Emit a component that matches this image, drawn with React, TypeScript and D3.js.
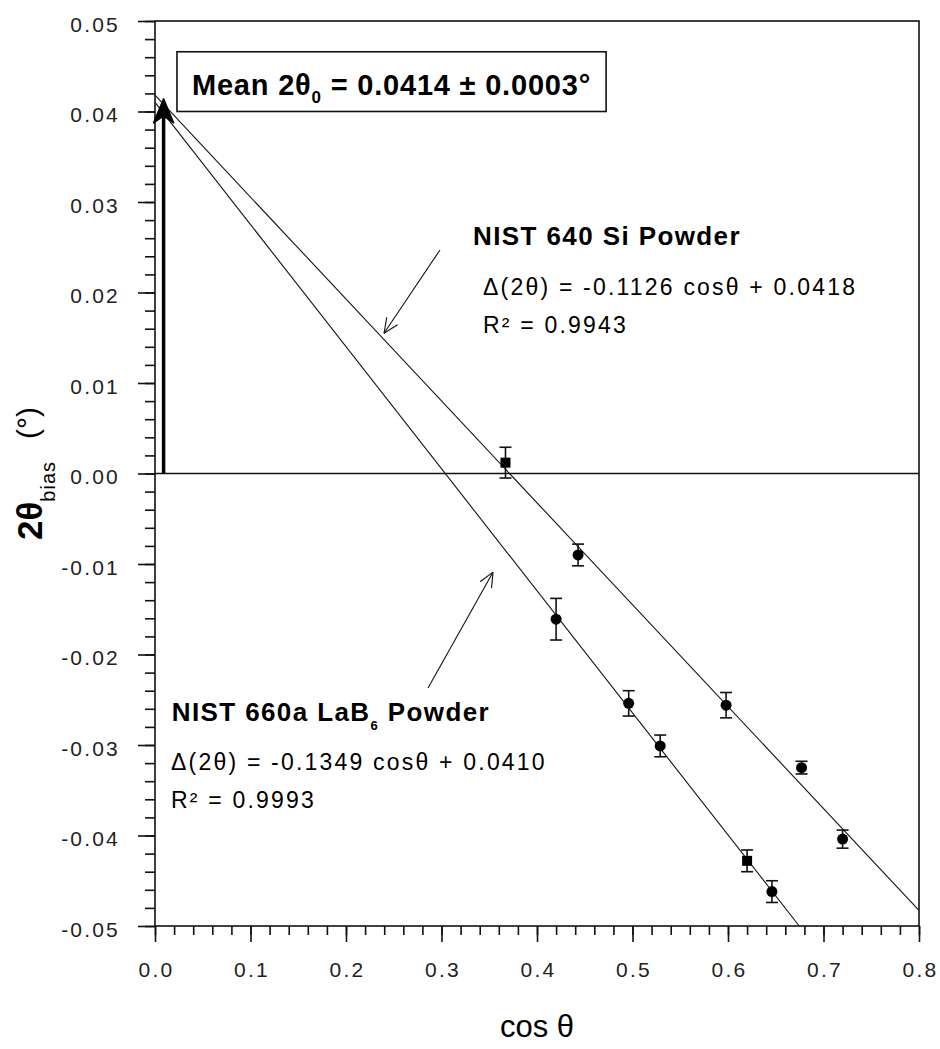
import { useRef, useEffect } from "react";
import * as d3 from "d3";

const W = 940;
const H = 1049;
const FONT = "'Liberation Sans', Arial, Helvetica, sans-serif";

// axis ticks
const xTicks = [0, 0.1, 0.2, 0.3, 0.4, 0.5, 0.6, 0.7, 0.8];
const xTickLabels = ["0.0", "0.1", "0.2", "0.3", "0.4", "0.5", "0.6", "0.7", "0.8"];
const yTicks = [-0.05, -0.04, -0.03, -0.02, -0.01, 0, 0.01, 0.02, 0.03, 0.04, 0.05];
const yTickLabels = ["-0.05", "-0.04", "-0.03", "-0.02", "-0.01", "0.00", "0.01", "0.02", "0.03", "0.04", "0.05"];

// NIST 640 Si powder
const siCos = [0.367, 0.443, 0.598, 0.677, 0.72];
const siBias = [0.0012, -0.009, -0.0256, -0.0325, -0.0404];
const siErr = [0.0017, 0.0012, 0.0014, 0.0007, 0.001];
const siMarker = ["square", "circle", "circle", "circle", "circle"];

// NIST 660a LaB6 powder
const labCos = [0.42, 0.496, 0.529, 0.62, 0.646];
const labBias = [-0.0161, -0.0254, -0.0301, -0.0428, -0.0462];
const labErr = [0.0023, 0.0014, 0.0012, 0.0012, 0.0012];
const labMarker = ["circle", "circle", "circle", "square", "circle"];

// linear fits
const siFit = { slope: -0.1126, intercept: 0.0418 };
const labFit = { slope: -0.1349, intercept: 0.041 };
const meanZero = 0.0414;
const meanArrowCos = 0.009;

export default function App() {
  const svgRef = useRef<SVGSVGElement>(null);

  useEffect(() => {
    const svg = d3.select(svgRef.current);
    svg.selectAll("*").remove();

    const x = d3.scaleLinear().domain([0, 0.8]).range([155, 919]);
    const y = d3.scaleLinear().domain([-0.05, 0.05]).range([926, 21]);

    svg.append("rect").attr("width", W).attr("height", H).attr("fill", "#fff");

    // minor ticks
    const xMinor = d3.range(0, 41).map((i) => i * 0.02);
    const yMinor = d3.range(0, 51).map((i) => -0.05 + i * 0.002);

    const styleAxis = (g: any) => {
      g.select(".domain").remove();
      g.selectAll("line").attr("stroke", "#111").attr("stroke-width", 1.6);
      g.selectAll("text")
        .attr("fill", "#222")
        .style("font-family", FONT)
        .style("font-size", "21px")
        .style("letter-spacing", "2.2px");
    };

    svg.append("g")
      .attr("transform", `translate(0,${y(-0.05)})`)
      .call(d3.axisBottom(x).tickValues(xMinor).tickSize(9).tickFormat(() => ""))
      .call(styleAxis);
    const xAxis = svg.append("g")
      .attr("transform", `translate(0,${y(-0.05)})`)
      .call(d3.axisBottom(x).tickValues(xTicks).tickSize(16).tickPadding(20).tickFormat((_d, i) => xTickLabels[i]))
      .call(styleAxis);
    xAxis.selectAll("text").attr("dx", "1px");

    svg.append("g")
      .attr("transform", `translate(${x(0)},0)`)
      .call(d3.axisLeft(y).tickValues(yMinor).tickSize(10).tickFormat(() => ""))
      .call(styleAxis);
    const yAxis = svg.append("g")
      .attr("transform", `translate(${x(0)},0)`)
      .call(d3.axisLeft(y).tickValues(yTicks).tickSize(17).tickPadding(18).tickFormat((_d, i) => yTickLabels[i]))
      .call(styleAxis);
    yAxis.selectAll("text").attr("dy", "0.48em");

    // frame
    svg.append("rect")
      .attr("x", x(0))
      .attr("y", y(0.05))
      .attr("width", x(0.8) - x(0))
      .attr("height", y(-0.05) - y(0.05))
      .attr("fill", "none")
      .attr("stroke", "#111")
      .attr("stroke-width", 1.6);

    // zero line
    svg.append("line")
      .attr("x1", x(0))
      .attr("x2", x(0.8))
      .attr("y1", y(0))
      .attr("y2", y(0))
      .attr("stroke", "#111")
      .attr("stroke-width", 1.6);

    // fit lines
    [siFit, labFit].forEach((f) => {
      const xEnd = Math.min(0.8, (-0.05 - f.intercept) / f.slope);
      const pts: [number, number][] = [
        [0, f.intercept],
        [xEnd, f.intercept + f.slope * xEnd],
      ];
      svg.append("path")
        .attr("d", d3.line().x((d) => x(d[0])).y((d) => y(d[1]))(pts))
        .attr("fill", "none")
        .attr("stroke", "#111")
        .attr("stroke-width", 1.1);
    });

    // points with error bars
    const drawSeries = (cs: number[], vs: number[], es: number[], ms: string[]) => {
      const g = svg.append("g");
      cs.forEach((c, i) => {
        const cx = x(c);
        const top = y(vs[i] + es[i]);
        const bot = y(vs[i] - es[i]);
        g.append("line").attr("x1", cx).attr("x2", cx).attr("y1", top).attr("y2", bot)
          .attr("stroke", "#111").attr("stroke-width", 1.6);
        [top, bot].forEach((yy) =>
          g.append("line").attr("x1", cx - 6).attr("x2", cx + 6).attr("y1", yy).attr("y2", yy)
            .attr("stroke", "#111").attr("stroke-width", 1.6)
        );
        if (ms[i] === "square") {
          g.append("rect").attr("x", cx - 5).attr("y", y(vs[i]) - 5).attr("width", 10).attr("height", 10).attr("fill", "#000");
        } else {
          g.append("circle").attr("cx", cx).attr("cy", y(vs[i])).attr("r", 5.5).attr("fill", "#000");
        }
      });
    };
    drawSeries(siCos, siBias, siErr, siMarker);
    drawSeries(labCos, labBias, labErr, labMarker);

    // thin annotation arrows
    const arrow = (from: [number, number], to: [number, number]) => {
      const x1 = x(from[0]), y1 = y(from[1]), x2 = x(to[0]), y2 = y(to[1]);
      const a = Math.atan2(y2 - y1, x2 - x1);
      svg.append("line").attr("x1", x1).attr("y1", y1).attr("x2", x2).attr("y2", y2)
        .attr("stroke", "#111").attr("stroke-width", 1.1);
      [-0.42, 0.42].forEach((da) => {
        svg.append("line")
          .attr("x1", x2).attr("y1", y2)
          .attr("x2", x2 - 16 * Math.cos(a + da))
          .attr("y2", y2 - 16 * Math.sin(a + da))
          .attr("stroke", "#111").attr("stroke-width", 1.1);
      });
    };
    arrow([0.2984, 0.0247], [0.2398, 0.0155]);
    arrow([0.2859, -0.0237], [0.3539, -0.0109]);

    // thick arrow marking the mean zero offset
    const ax = x(meanArrowCos);
    const tip = y(meanZero);
    svg.append("line")
      .attr("x1", ax).attr("x2", ax)
      .attr("y1", y(0)).attr("y2", tip + 10)
      .attr("stroke", "#000").attr("stroke-width", 3.5);
    svg.append("path")
      .attr("d", d3.line()([
        [ax, tip],
        [ax - 10, tip + 24],
        [ax, tip + 17],
        [ax + 10, tip + 24],
      ]) + "Z")
      .attr("fill", "#000")
      .attr("stroke", "#000")
      .attr("stroke-width", 1.5)
      .attr("stroke-linejoin", "round");

    // mean box
    const meanText = svg.append("text")
      .attr("x", x(0.0387))
      .attr("y", y(0.0418))
      .style("font-family", FONT)
      .style("font-weight", "bold")
      .style("font-size", "29px")
      .style("letter-spacing", "0.8px")
      .attr("fill", "#000");
    meanText.append("tspan").text("Mean 2θ");
    meanText.append("tspan").attr("dy", 8).style("font-size", "17px").text("0");
    meanText.append("tspan").attr("dy", -8).text(" = 0.0414 ± 0.0003°");
    const bb = (meanText.node() as SVGTextElement).getBBox();
    svg.append("rect")
      .attr("x", x(0.023))
      .attr("y", y(0.0466))
      .attr("width", bb.x + bb.width + 15 - x(0.023))
      .attr("height", y(0.04) - y(0.0466))
      .attr("fill", "none")
      .attr("stroke", "#111")
      .attr("stroke-width", 1.6);

    // annotations
    const label = (cx: number, cy: number, size: number, bold: boolean, spacing: number) =>
      svg.append("text")
        .attr("x", x(cx))
        .attr("y", y(cy))
        .style("font-family", FONT)
        .style("font-size", `${size}px`)
        .style("font-weight", bold ? "bold" : "normal")
        .style("letter-spacing", `${spacing}px`)
        .style("white-space", "pre")
        .attr("fill", "#000");

    label(0.333, 0.0252, 26, true, 1.4).text("NIST 640 Si Powder");
    label(0.3435, 0.0197, 23, false, 2.2).text("Δ(2θ) = -0.1126 cosθ + 0.0418");
    label(0.3435, 0.0155, 23, false, 2.2).text("R² = 0.9943");

    const labTitle = label(0.0175, -0.0273, 26, true, 1.4);
    labTitle.append("tspan").text("NIST 660a LaB");
    labTitle.append("tspan").attr("dy", 9).style("font-size", "13px").text("6");
    labTitle.append("tspan").attr("dy", -9).text(" Powder");
    label(0.0168, -0.0328, 23, false, 2.2).text("Δ(2θ) = -0.1349 cosθ + 0.0410");
    label(0.0168, -0.037, 23, false, 2.2).text("R² = 0.9993");

    // axis titles
    svg.append("text")
      .attr("x", (x(0) + x(0.8)) / 2)
      .attr("y", 1037)
      .attr("text-anchor", "middle")
      .style("font-family", FONT)
      .style("font-size", "31px")
      .attr("fill", "#000")
      .text("cos θ");

    const yt = svg.append("text")
      .attr("transform", `translate(42,${y(0)}) rotate(-90)`)
      .attr("text-anchor", "middle")
      .style("font-family", FONT)
      .attr("fill", "#000");
    yt.append("tspan").style("font-size", "35px").style("font-weight", "bold").text("2θ");
    yt.append("tspan").attr("dy", 13).style("font-size", "20px").style("letter-spacing", "1px").text("bias");
    yt.append("tspan").attr("dy", -17).attr("dx", 22).style("font-size", "30px").text("(°)");
  }, []);

  return (
    <div style={{ position: "absolute", left: 0, top: 0 }}>
      <svg ref={svgRef} width={W} height={H} style={{ display: "block" }}></svg>
    </div>
  );
}
